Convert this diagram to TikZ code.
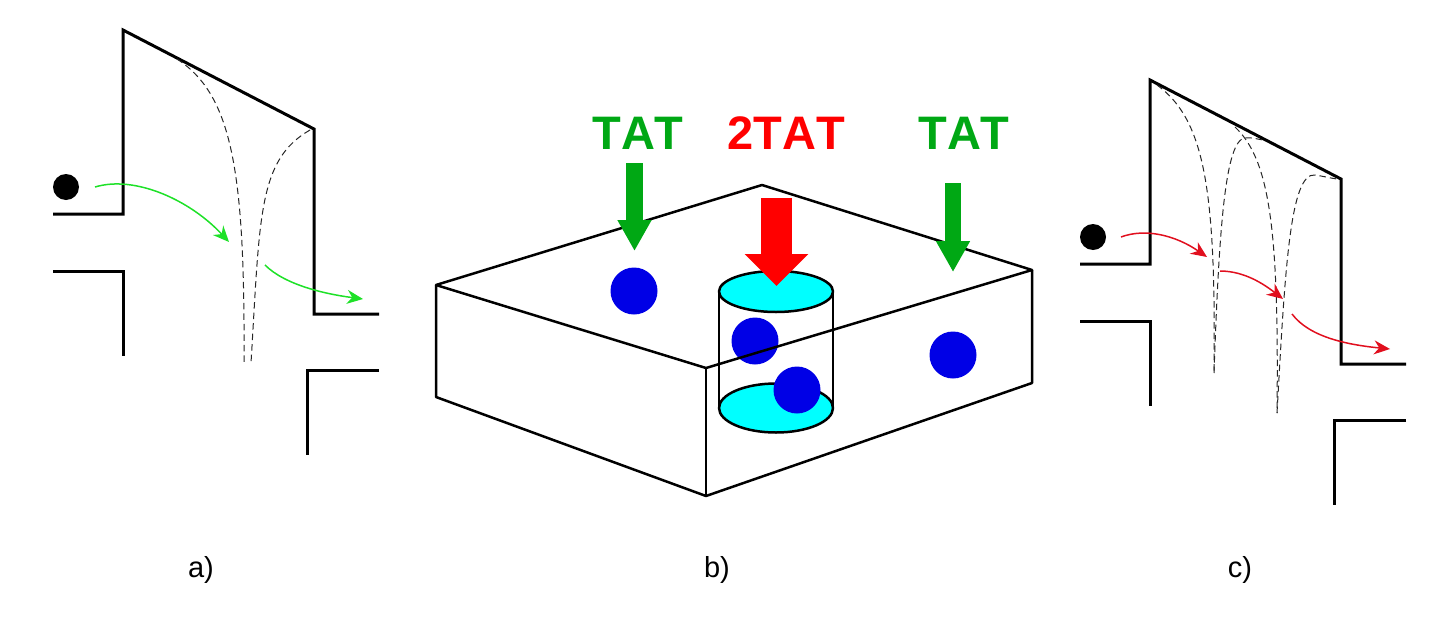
\documentclass[tikz,border=0pt]{standalone}
\usepackage{fontspec}
\setmainfont{Liberation Sans}
\usetikzlibrary{arrows.meta}

\definecolor{tatgreen}{RGB}{0,168,20}
\definecolor{thingreen}{RGB}{30,225,40}
\definecolor{thinred}{RGB}{225,15,30}
\definecolor{grainblue}{RGB}{0,0,230}
\definecolor{diskcyan}{RGB}{0,255,255}

\tikzset{
	wall/.style={line width=3pt, line join=miter},
	edgeline/.style={line width=2.5pt, line join=round},
	well/.style={line width=1pt, dash pattern=on 6.5pt off 4pt, black!85},
	hopgreen/.style={line width=1.5pt, thingreen, -{Stealth[length=16pt,width=14pt]}},
	hopred/.style={line width=1.5pt, thinred, -{Stealth[length=16pt,width=14pt]}},
	fatgreen/.style={line width=16.5pt, tatgreen, -{Triangle[length=31pt,width=32pt]}},
	fatred/.style={line width=31pt, red, -{Triangle[length=32pt,width=62pt]}},
	dot/.style={circle, fill=black, inner sep=0pt, minimum size=26pt},
	grain/.style={circle, fill=grainblue, inner sep=0pt, minimum size=47pt},
	title/.style={font=\fontsize{47}{47}\selectfont\bfseries\addfontfeatures{Kerning=Off}},
	caption/.style={font=\fontsize{29}{29}\selectfont},
}

% the walls and the electron, same in a) and c)
\newcommand{\barrierwalls}[1]{
	\draw[wall] (53,214) -- (123,214) -- (123,30) -- (314,129) -- (314,314) -- (379,314);
	\draw[wall] (53,271) -- (123,271) -- (123,356);
	\draw[wall] (379,370) -- (307,370) -- (307,455);
	\node[dot] (#1) at (66,187) {};
}

\begin{document}
\begin{tikzpicture}[x=1pt, y=-1pt]

	\useasboundingbox (0,0) rectangle (1440,624);

	% a)
	\barrierwalls{dotA}
	\draw[well] (177,59) .. controls (232,95) and (245,170) .. (244,362);
	\draw[well] (310,130) .. controls (258,160) and (260,215) .. (251,363);
	\coordinate (hopAa) at (95,187);
	\coordinate (hopAb) at (229,242);
	\coordinate (hopAc) at (265,265);
	\coordinate (hopAd) at (363,299);
	\draw[hopgreen] (hopAa) .. controls (135,175) and (190,200) .. (hopAb);
	\draw[hopgreen] (hopAc) .. controls (285,285) and (325,294) .. (hopAd);
	\node[caption] (capA) at (201,570) {a)};

	% b)
	\draw[edgeline, fill=diskcyan] (776,408) ellipse [x radius=57pt, y radius=24.5pt];
	\draw[edgeline] (719,292) -- (719,408);
	\draw[edgeline] (833,292) -- (833,408);
	\draw[edgeline, fill=diskcyan] (776,291.5) ellipse [x radius=57pt, y radius=20.5pt];

	\node[grain] (grainA) at (634,291) {};
	\node[grain] (grainB) at (755,341) {};
	\node[grain] (grainC) at (797,390) {};
	\node[grain] (grainD) at (953,355) {};

	\draw[edgeline] (436,285) -- (762,185) -- (1032,270) -- (706,368) -- cycle;
	\draw[edgeline] (436,285) -- (436,397) -- (706,496) -- (1032,383) -- (1032,270);
	\draw[edgeline] (706,368) -- (706,496);

	\node[title, tatgreen] (tatA) at (638,133) {TAT};
	\node[title, red] (tatB) at (786,133) {2TAT};
	\node[title, tatgreen] (tatC) at (964,133) {TAT};

	\coordinate (fatAa) at (634.5,163);
	\coordinate (fatAb) at (634.5,251);
	\coordinate (fatBa) at (776.5,198);
	\coordinate (fatBb) at (776.5,286);
	\coordinate (fatCa) at (953,183);
	\coordinate (fatCb) at (953,272);
	\draw[fatgreen] (fatAa) -- (fatAb);
	\draw[fatred] (fatBa) -- (fatBb);
	\draw[fatgreen] (fatCa) -- (fatCb);

	\node[caption] (capB) at (717,570) {b)};

	% c)
	\begin{scope}[xshift=1027pt, yshift=-50pt]
		\barrierwalls{dotC}
	\end{scope}
	\draw[well] (1157,85) .. controls (1205,120) and (1216,190) .. (1214,373);
	\draw[well] (1214,373) .. controls (1219,230) and (1225,140) .. (1245,138) .. controls (1250,137) and (1257,139) .. (1263,140);
	\draw[well] (1235,127) .. controls (1270,160) and (1279,230) .. (1277,413);
	\draw[well] (1277,413) .. controls (1285,270) and (1290,172) .. (1315,175) .. controls (1322,176) and (1330,178) .. (1337,179);
	\coordinate (hopCa) at (1121,237);
	\coordinate (hopCb) at (1207,257);
	\coordinate (hopCc) at (1220,271);
	\coordinate (hopCd) at (1283,299);
	\coordinate (hopCe) at (1292,314);
	\coordinate (hopCf) at (1390,349);
	\draw[hopred] (hopCa) .. controls (1145,228) and (1175,235) .. (hopCb);
	\draw[hopred] (hopCc) .. controls (1245,271) and (1265,285) .. (hopCd);
	\draw[hopred] (hopCe) .. controls (1310,338) and (1350,345) .. (hopCf);
	\node[caption] (capC) at (1240,570) {c)};

\end{tikzpicture}
\end{document}
